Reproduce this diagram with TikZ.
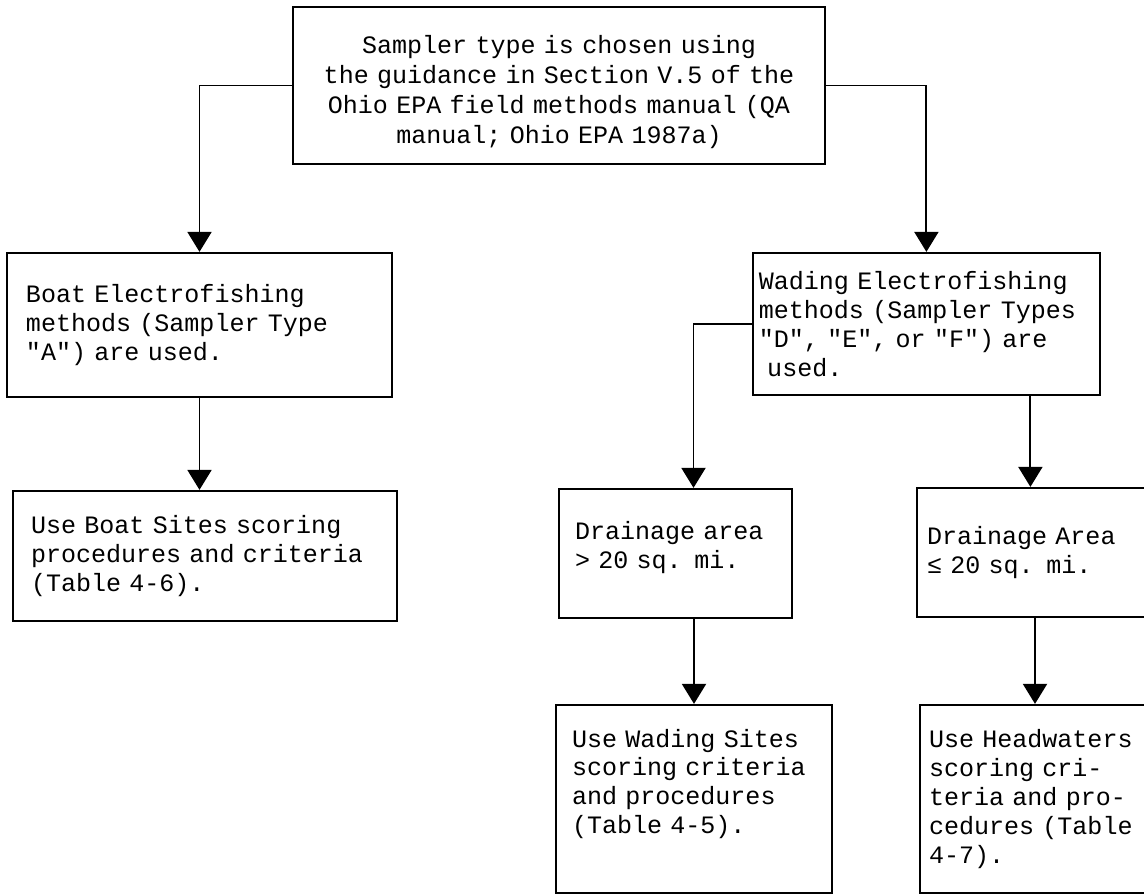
\documentclass[tikz,border=0pt]{standalone}
\usepackage{fontspec}
\newfontfamily\typewriter{Liberation Mono}
\usetikzlibrary{arrows.meta}
\begin{document}
\begin{tikzpicture}[
    box/.style={draw, line width=1.6pt, align=left, inner ysep=0pt,
      font=\fontsize{17.8}{20.5}\typewriter},
    flow/.style={-{Triangle[width=0.6cm,length=0.5cm]}, line width=1.4pt}
  ]
  \clip (0,0) rectangle (28.6,-22.375);

  \node[box, align=center, inner xsep=0.2cm, text width=12.9cm, minimum height=3.925cm,
    font=\fontsize{17.8}{21.3}\typewriter, text height=0.8cm]
    (sampler) at (13.975,-2.1375)
    {Sampler type is chosen using\\the guidance in Section V.5 of the\\Ohio EPA field methods manual (QA\\manual; Ohio EPA 1987a)};

  % left branch
  \node[box, inner xsep=0.475cm, text width=8.675cm, minimum height=3.6cm]
    (boat) at (4.9875,-8.125)
    {Boat Electrofishing\\methods (Sampler Type\\"A") are used.};
  \node[box, inner xsep=0.45cm, text width=8.7cm, minimum height=3.25cm]
    (boatuse) at (5.125,-13.9)
    {Use Boat Sites scoring\\procedures and criteria\\(Table 4-6).};

  % right branch
  \node[box, inner xsep=0.15cm, text width=8.375cm, minimum height=3.55cm]
    (wade) at (23.16,-8.1)
    {Wading Electrofishing\\methods (Sampler Types\\"D", "E", or "F") are\\~used.};
  \node[box, inner xsep=0.4cm, text width=5.025cm, minimum height=3.225cm, text depth=1.15cm]
    (large) at (16.8875,-13.8375)
    {Drainage area\\> 20 sq. mi.};
  \node[box, inner xsep=0.25cm, text width=5.4cm, minimum height=3.225cm]
    (small) at (25.875,-13.8125)
    {Drainage Area\\≤ 20 sq. mi.};
  \node[box, inner xsep=0.4cm, text width=6.1cm, minimum height=4.7cm, text depth=3.05cm]
    (wadeuse) at (17.35,-19.975)
    {Use Wading Sites\\scoring criteria\\and procedures\\(Table 4-5).};
  \node[box, inner xsep=0.225cm, text width=5.55cm, minimum height=4.7cm]
    (headuse) at (26,-19.975)
    {Use Headwaters\\scoring cri-\\teria and pro-\\cedures (Table\\4-7).};

  \draw[flow] (sampler.west) -| (boat.north);
  \draw[flow] (sampler.east) -| (wade.north);
  \draw[flow] (boat.south) -- (boat.south |- boatuse.north);
  \draw[flow] (wade.west) -| ([xshift=0.45cm]large.north);
  \draw[flow] ([xshift=2.6cm]wade.south) -- ([xshift=2.6cm]wade.south |- small.north);
  \draw[flow] (large.south -| wadeuse.north) -- (wadeuse.north);
  \draw[flow] (small.south) -- (small.south |- headuse.north);
\end{tikzpicture}
\end{document}
